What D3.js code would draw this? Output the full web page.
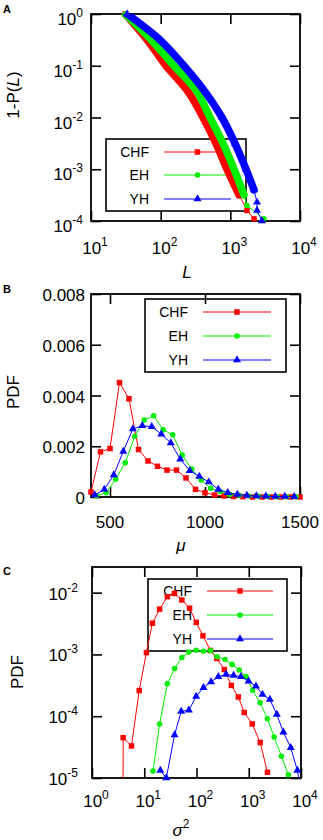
<!DOCTYPE html>
<html>
<head>
<meta charset="utf-8">
<script src="https://cdn.jsdelivr.net/npm/d3@7"></script>
<style>
  body { margin: 0; background: #fff; }
  svg text { font-family: "Liberation Sans", Arial, Helvetica, sans-serif; fill: #000; }
</style>
</head>
<body>
<svg id="chart" width="323" height="840"></svg>
<script>
// ---- data ----
const seriesNames = ["CHF", "EH", "YH"];
const seriesColors = ["#ff0000", "#00ee00", "#0000ff"];

// A: 1-P(L), pairs [L, 1-P]
const ccdfCHF = [[31, 1], [64, 0.316], [119, 0.1], [247, 0.0316], [405, 0.01], [622, 0.00316], [895, 0.001], [1330, 3.2e-4], [1734, 1.6e-4], [2190, 1.1e-4]];
const ccdfEH = [[31, 1], [73, 0.316], [155, 0.1], [332, 0.0316], [511, 0.01], [785, 0.00316], [1130, 0.001], [1570, 3.2e-4], [1734, 2.0e-4], [3040, 1.1e-4]];
const ccdfYH = [[33, 1], [98, 0.316], [216, 0.1], [432, 0.0316], [759, 0.01], [1166, 0.00316], [1679, 0.001], [2188, 4e-4], [2415, 2.3e-4], [2415, 1.6e-4], [2844, 1.0e-4]];

// B: PDF of mu
const muCHF = [400, 450, 500, 550, 600, 650, 700, 750, 800, 850, 900, 950, 1000, 1050, 1100, 1150, 1200, 1250, 1300, 1350, 1400, 1450, 1500];
const pdfMuCHF = [0.0002, 0.00178, 0.00191, 0.00451, 0.00387, 0.00187, 0.00142, 0.00121, 0.00106, 0.00106, 0.00075, 0.0003, 0.00017, 0.00008, 0.00004, 0.00002, 0.00001, 0, 0, 0, 0, 0, 0];
const muEH = [430, 480, 530, 580, 630, 680, 730, 780, 830, 880, 930, 980, 1030, 1080, 1130, 1180, 1230, 1280, 1330, 1380, 1430, 1480];
const pdfMuEH = [0.00005, 0.00017, 0.0007, 0.00135, 0.00239, 0.00303, 0.0032, 0.00265, 0.00245, 0.00165, 0.0011, 0.00067, 0.00034, 0.00022, 0.0001, 0.00007, 0.00004, 0.00003, 0.00002, 0.00001, 0.00001, 0];
const muYH = [420, 470, 520, 570, 620, 670, 720, 770, 820, 870, 920, 970, 1020, 1070, 1120, 1170, 1220, 1270, 1320, 1370, 1420, 1470];
const pdfMuYH = [0.00008, 0.0003, 0.00087, 0.0018, 0.00268, 0.00281, 0.00277, 0.00248, 0.00213, 0.00149, 0.00104, 0.00081, 0.00059, 0.0003, 0.00017, 0.0001, 0.00006, 0.00004, 0.00003, 0.00002, 0.00002, 0.00001];

// C: PDF of sigma^2
const varCHF = [3.9, 3.95, 5.7, 8.0, 11, 14.3, 19.7, 27.7, 38, 52.5, 73.6, 99, 133, 185, 245, 341, 464, 631, 820, 1166, 1656, 2280];
const pdfVarCHF = [1e-7, 4.5e-5, 3.3e-5, 2.6e-4, 1.07e-3, 3.2e-3, 5.4e-3, 8.6e-3, 9.7e-3, 7.6e-3, 5.6e-3, 3.3e-3, 2.0e-3, 1.16e-3, 8.6e-4, 5.7e-4, 3.15e-4, 2.05e-4, 1.15e-4, 7.5e-5, 3.75e-5, 1.24e-5];
const varEH = [14.7, 19.7, 27.7, 38.1, 52.5, 71.3, 98.7, 136, 185, 248, 352, 479, 659, 885, 1180, 1656, 2280, 3060, 4220, 5730];
const pdfVarEH = [1.3e-5, 7.5e-5, 3.35e-4, 5.9e-4, 8.9e-4, 1.09e-3, 1.17e-3, 1.13e-3, 1.16e-3, 9.2e-4, 8.3e-4, 6.9e-4, 5.6e-4, 4.4e-4, 2.64e-4, 1.65e-4, 9.1e-5, 4.6e-5, 2.25e-5, 1.13e-5];
const varYH = [20.3, 26.4, 38.1, 51, 71.3, 98.6, 136, 190, 262, 367, 513, 710, 991, 1371, 1832, 2535, 3443, 4603, 6368, 8511, 11700];
const pdfVarYH = [1.33e-5, 1.0e-5, 5.0e-5, 1.2e-4, 1.25e-4, 2.1e-4, 2.9e-4, 3.6e-4, 4.35e-4, 4.74e-4, 4.57e-4, 4.35e-4, 3.69e-4, 3.06e-4, 2.25e-4, 1.87e-4, 1.07e-4, 5.5e-5, 3.1e-5, 1.33e-5, 3e-6];

// ticks
const ticksA_x = [10, 100, 1000, 10000];
const ticksA_y = [1, 0.1, 0.01, 0.001, 0.0001];
const ticksB_x = [500, 1000, 1500];
const ticksB_y = [0, 0.002, 0.004, 0.006, 0.008];
const ticksC_x = [1, 10, 100, 1000, 10000];
const ticksC_y = [0.01, 0.001, 0.0001, 0.00001];

const zip = (xs, ys) => xs.map((v, i) => [v, ys[i]]);

const svg = d3.select("#chart");
svg.append("rect").attr("width", 323).attr("height", 840).attr("fill", "#fff");

const symbols = [d3.symbolSquare, d3.symbolCircle, d3.symbolTriangle];
const symSizes = [30, 24, 28];

function sup(sel, base, exp, expSize) {
    sel.append("tspan").text(base);
    sel.append("tspan").attr("dy", -8).attr("font-size", expSize).text(exp);
}

function drawPanel(p) {
    const g = svg.append("g");
    const x = p.x, y = p.y;
    const [xa, xb] = x.range(), [yb, ya] = y.range();

    svg.append("clipPath").attr("id", "clip" + p.id)
        .append("rect").attr("x", xa).attr("y", ya).attr("width", xb - xa).attr("height", yb - ya);

    // inward ticks on all four sides
    const tl = 10;
    const axes = [
        [d3.axisBottom(x).tickValues(p.xTicks), `translate(0,${yb})`],
        [d3.axisTop(x).tickValues(p.xTicks), `translate(0,${ya})`],
        [d3.axisLeft(y).tickValues(p.yTicks), `translate(${xa},0)`],
        [d3.axisRight(y).tickValues(p.yTicks), `translate(${xb},0)`]
    ];
    axes.forEach(([ax, tr]) => {
        const a = g.append("g").attr("transform", tr).call(ax.tickSize(-tl).tickFormat(""));
        a.select(".domain").remove();
        a.selectAll("line").attr("stroke", "#000").attr("stroke-width", 1.6);
    });
    g.append("rect").attr("x", xa).attr("y", ya).attr("width", xb - xa).attr("height", yb - ya)
        .attr("fill", "none").attr("stroke", "#000").attr("stroke-width", 1.8);

    // tick labels
    p.xTicks.forEach(t => {
        const tx = g.append("text").attr("x", x(t) + p.xLabDx).attr("y", p.xLabY)
            .attr("text-anchor", "middle").attr("font-size", p.fs);
        if (p.xLog) sup(tx, "10", Math.round(Math.log10(t)), p.fsSup);
        else tx.text(t);
    });
    p.yTicks.forEach(t => {
        const ty = g.append("text").attr("x", p.yLabX).attr("y", y(t) + p.yLabDy)
            .attr("text-anchor", "end").attr("font-size", p.fs);
        if (p.yLog) sup(ty, "10", Math.round(Math.log10(t)), p.fsSup);
        else ty.text(t === 0 ? "0" : t.toFixed(3));
    });

    // panel letter
    g.append("text").attr("x", 3).attr("y", p.letterY).attr("font-size", 11)
        .attr("font-weight", "bold").text(p.id);

    // y title (rotated)
    const yt = g.append("text").attr("transform", `translate(${p.yTitle[0]},${p.yTitle[1]}) rotate(-90)`)
        .attr("text-anchor", "middle").attr("font-size", p.fsTitle);
    p.yTitleText(yt);
    const xt = g.append("text").attr("x", p.xTitle[0]).attr("y", p.xTitle[1])
        .attr("text-anchor", "middle").attr("font-size", p.fsTitle);
    p.xTitleText(xt);

    // legend (drawn under the data)
    const lg = p.legend;
    g.append("rect").attr("x", lg.x0).attr("y", lg.y0).attr("width", lg.x1 - lg.x0).attr("height", lg.y1 - lg.y0)
        .attr("fill", "none").attr("stroke", "#000").attr("stroke-width", 1.6);
    seriesNames.forEach((name, i) => {
        const ry = lg.rows[i];
        g.append("text").attr("x", lg.textX).attr("y", ry + 5).attr("text-anchor", "end")
            .attr("font-size", 14).text(name);
        g.append("line").attr("x1", lg.lineX0).attr("x2", lg.lineX1).attr("y1", ry).attr("y2", ry)
            .attr("stroke", seriesColors[i]).attr("stroke-width", 1);
        g.append("path").attr("transform", `translate(${(lg.lineX0 + lg.lineX1) / 2},${ry})`)
            .attr("d", d3.symbol().type(symbols[i]).size(symSizes[i])()).attr("fill", seriesColors[i]);
    });

    // data
    const yv = v => (v > 0 || !p.yLog) ? y(v) : yb + 200;
    const line = d3.line().x(d => x(d[0])).y(d => yv(d[1]));
    const bandLine = d3.line().curve(d3.curveCatmullRom).x(d => x(d[0])).y(d => yv(d[1]));
    p.data.forEach((pts, i) => {
        const dg = g.append("g");
        if (p.band) {
            // dense run of overlapping markers -> thick band
            dg.append("path").attr("d", bandLine(pts.filter(d => d[1] >= p.band)))
                .attr("fill", "none").attr("stroke", seriesColors[i]).attr("stroke-width", 7.5)
                .attr("stroke-linecap", "round").attr("stroke-linejoin", "round")
                .attr("clip-path", `url(#clip${p.id})`);
        }
        dg.append("path").attr("d", line(pts)).attr("fill", "none")
            .attr("stroke", seriesColors[i]).attr("stroke-width", 1)
            .attr("clip-path", `url(#clip${p.id})`);
        dg.selectAll("path.pt").data(pts.filter(d => d[1] >= y.domain()[0] && d[0] <= x.domain()[1]))
            .enter().append("path").attr("class", "pt")
            .attr("transform", d => `translate(${x(d[0])},${y(d[1])})`)
            .attr("d", d3.symbol().type(symbols[i]).size(symSizes[i])())
            .attr("fill", seriesColors[i]);
    });
}

drawPanel({
    id: "A",
    x: d3.scaleLog().domain([10, 1e4]).range([91, 300]),
    y: d3.scaleLog().domain([1e-4, 1]).range([221, 14]),
    xLog: true, yLog: true,
    xTicks: ticksA_x, yTicks: ticksA_y,
    fs: 17, fsSup: 12, fsTitle: 17,
    xLabY: 254, xLabDx: 4, yLabX: 83, yLabDy: 11,
    letterY: 13,
    yTitle: [19, 95],
    yTitleText: t => { t.append("tspan").text("1-P("); t.append("tspan").attr("font-style", "italic").text("L"); t.append("tspan").text(")"); },
    xTitle: [187, 278],
    xTitleText: t => t.append("tspan").attr("font-style", "italic").text("L"),
    legend: { x0: 106, x1: 246, y0: 139, y1: 211, rows: [152, 175, 199], textX: 149, lineX0: 164, lineX1: 231 },
    band: 2.5e-4,
    data: [ccdfCHF, ccdfEH, ccdfYH]
});

drawPanel({
    id: "B",
    x: d3.scaleLinear().domain([400, 1500]).range([91, 300]),
    y: d3.scaleLinear().domain([0, 0.008]).range([497, 294]),
    xLog: false, yLog: false,
    xTicks: ticksB_x, yTicks: ticksB_y,
    fs: 17, fsSup: 12, fsTitle: 17,
    xLabY: 528, xLabDx: 0, yLabX: 85, yLabDy: 7,
    letterY: 293,
    yTitle: [19, 392],
    yTitleText: t => t.text("PDF"),
    xTitle: [181, 551],
    xTitleText: t => t.append("tspan").attr("font-style", "italic").text("\u03bc"),
    legend: { x0: 145, x1: 286, y0: 299, y1: 372, rows: [312, 336, 360], textX: 188, lineX0: 203, lineX1: 271 },
    band: null,
    data: [zip(muCHF, pdfMuCHF), zip(muEH, pdfMuEH), zip(muYH, pdfMuYH)]
});

drawPanel({
    id: "C",
    x: d3.scaleLog().domain([1, 1e4]).range([92, 301]),
    y: d3.scaleLog().domain([1e-5, 0.026]).range([778, 567]),
    xLog: true, yLog: true,
    xTicks: ticksC_x, yTicks: ticksC_y,
    fs: 17, fsSup: 12, fsTitle: 17,
    xLabY: 807, xLabDx: 4, yLabX: 78, yLabDy: 7,
    letterY: 575,
    yTitle: [23, 672],
    yTitleText: t => t.text("PDF"),
    xTitle: [181, 836],
    xTitleText: t => { t.append("tspan").attr("font-style", "italic").text("\u03c3"); t.append("tspan").attr("dy", -8).attr("font-size", 12).text("2"); },
    legend: { x0: 148, x1: 287, y0: 579, y1: 651, rows: [591, 615, 639], textX: 192, lineX0: 207, lineX1: 273 },
    band: null,
    data: [zip(varCHF, pdfVarCHF), zip(varEH, pdfVarEH), zip(varYH, pdfVarYH)]
});
</script>
</body>
</html>
